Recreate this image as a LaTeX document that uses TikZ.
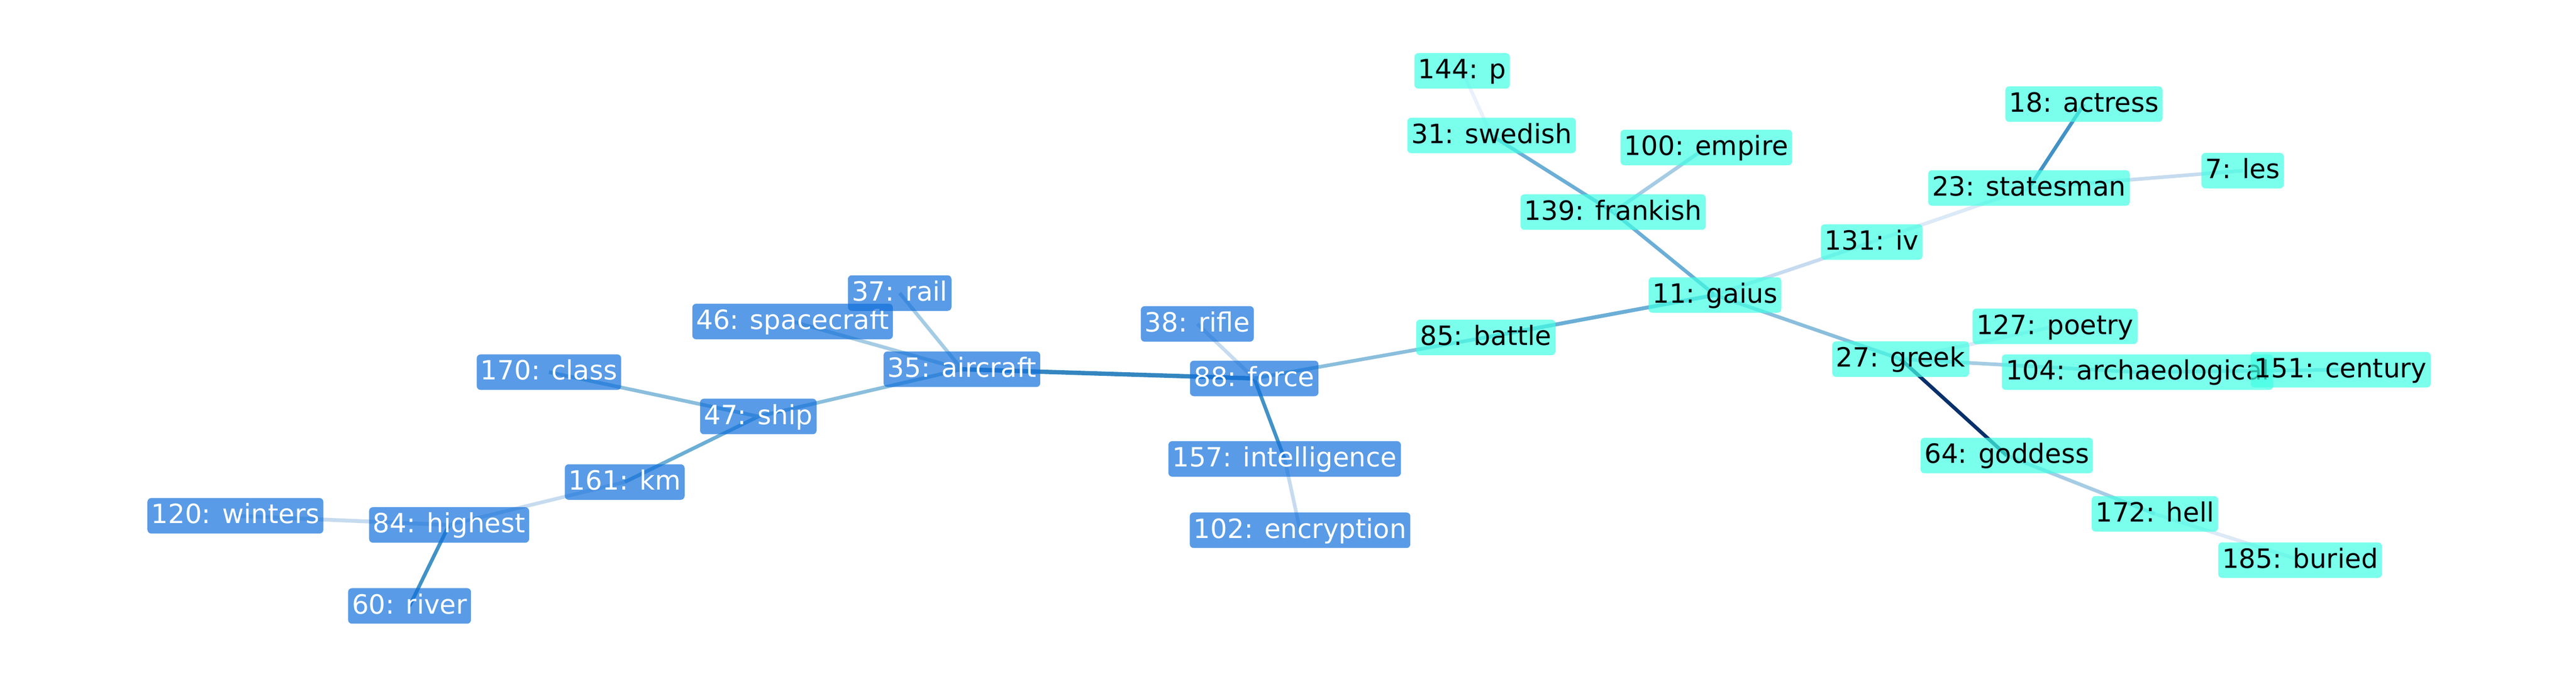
\documentclass[tikz,border=0pt]{standalone}
\usepackage{fontspec}
\setmainfont{DejaVu Sans}
\pgfdeclarelayer{edges}
\pgfsetlayers{edges,main}
\definecolor{bfill}{RGB}{18,112,219}
\definecolor{cfill}{RGB}{65,255,228}
\definecolor{ea}{RGB}{52,134,192}
\definecolor{eb}{RGB}{66,146,198}
\definecolor{ec}{RGB}{107,174,214}
\definecolor{ed}{RGB}{138,190,220}
\definecolor{ee}{RGB}{165,204,228}
\definecolor{ef}{RGB}{198,219,239}
\definecolor{eg}{RGB}{220,233,246}
\definecolor{eh}{RGB}{234,241,251}
\definecolor{enavy}{RGB}{8,48,107}
\tikzset{
  nbase/.style={rounded corners=0.08cm, inner xsep=0.08cm, inner ysep=0pt,
    text height=0.53cm, text depth=0.207cm, fill opacity=0.7, text opacity=1,
    font=\fontsize{15.65pt}{18pt}\selectfont},
  bnode/.style={nbase, fill=bfill, text=white},
  cnode/.style={nbase, fill=cfill, text=black},
  edge/.style={line width=0.075cm},
}
\begin{document}
\begin{tikzpicture}
\useasboundingbox (0,0) rectangle (53.40,-14.04);
% blue cluster
\node[bnode] (n120) at (4.88,-10.70) {120: winters};
\node[bnode] (n84) at (9.31,-10.89) {84: highest};
\node[bnode] (n60) at (8.49,-12.57) {60: river};
\node[bnode] (n161) at (12.95,-10.00) {161: km};
\node[bnode] (n170) at (11.38,-7.72) {170: class};
\node[bnode] (n47) at (15.72,-8.64) {47: ship};
\node[bnode] (n46) at (16.43,-6.67) {46: spacecraft};
\node[bnode] (n37) at (18.65,-6.08) {37: rail};
\node[bnode] (n35) at (19.94,-7.66) {35: aircraft};
\node[bnode] (n38) at (24.82,-6.72) {38: rifle};
\node[bnode] (n88) at (26.00,-7.85) {88: force};
\node[bnode] (n157) at (26.63,-9.52) {157: intelligence};
\node[bnode] (n102) at (26.95,-11.00) {102: encryption};
% cyan cluster
\node[cnode] (n85) at (30.80,-7.00) {85: battle};
\node[cnode] (n144) at (30.31,-1.47) {144: p};
\node[cnode] (n31) at (30.92,-2.81) {31: swedish};
\node[cnode] (n100) at (35.37,-3.06) {100: empire};
\node[cnode] (n139) at (33.44,-4.40) {139: frankish};
\node[cnode] (n11) at (35.55,-6.12) {11: gaius};
\node[cnode] (n131) at (38.80,-5.02) {131: iv};
\node[cnode] (n18) at (43.20,-2.16) {18: actress};
\node[cnode] (n23) at (42.06,-3.90) {23: statesman};
\node[cnode] (n7) at (46.49,-3.54) {7: les};
\node[cnode] (n127) at (42.60,-6.77) {127: poetry};
\node[cnode] (n27) at (39.40,-7.45) {27: greek};
\node[cnode] (n104) at (44.31,-7.72) {104: archaeological};
\node[cnode] (n151) at (48.52,-7.67) {151: century};
\node[cnode] (n64) at (41.60,-9.45) {64: goddess};
\node[cnode] (n172) at (44.67,-10.66) {172: hell};
\node[cnode] (n185) at (47.68,-11.62) {185: buried};
\begin{pgfonlayer}{edges}
\draw[edge, draw=ef, line width=0.08cm] (n120.center) -- (n84.center);
\draw[edge, draw=eb] (n84.center) -- (n60.center);
\draw[edge, draw=ef] (n84.center) -- (n161.center);
\draw[edge, draw=ec] (n161.center) -- (n47.center);
\draw[edge, draw=ed] (n170.center) -- (n47.center);
\draw[edge, draw=ed] (n47.center) -- (n35.center);
\draw[edge, draw=ee] (n46.center) -- (n35.center);
\draw[edge, draw=ee] (n37.center) -- (n35.center);
\draw[edge, draw=ea, line width=0.09cm] (n35.center) -- (n88.center);
\draw[edge, draw=ef] (n38.center) -- (n88.center);
\draw[edge, draw=eb] (n88.center) -- (n157.center);
\draw[edge, draw=ef] (n157.center) -- (n102.center);
\draw[edge, draw=ed] (n88.center) -- (n85.center);
\draw[edge, draw=ec, line width=0.08cm] (n85.center) -- (n11.center);
\draw[edge, draw=ec] (n11.center) -- (n139.center);
\draw[edge, draw=ec] (n139.center) -- (n31.center);
\draw[edge, draw=ee] (n139.center) -- (n100.center);
\draw[edge, draw=eh] (n31.center) -- (n144.center);
\draw[edge, draw=ef] (n11.center) -- (n131.center);
\draw[edge, draw=eg] (n131.center) -- (n23.center);
\draw[edge, draw=eb] (n23.center) -- (n18.center);
\draw[edge, draw=ef] (n23.center) -- (n7.center);
\draw[edge, draw=ed] (n11.center) -- (n27.center);
\draw[edge, draw=eg] (n27.center) -- (n127.center);
\draw[edge, draw=ee] (n27.center) -- (n104.center);
\draw[edge, draw=ee] (n104.center) -- (n151.center);
\draw[edge, draw=enavy] (n27.center) -- (n64.center);
\draw[edge, draw=ee] (n64.center) -- (n172.center);
\draw[edge, draw=eg] (n172.center) -- (n185.center);
\end{pgfonlayer}
\end{tikzpicture}
\end{document}
